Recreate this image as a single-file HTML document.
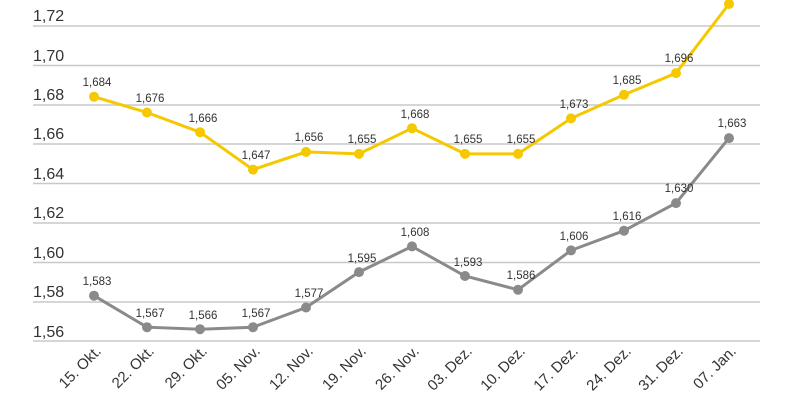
<!DOCTYPE html>
<html><head><meta charset="utf-8"><style>body{margin:0;background:#fff}svg{display:block}</style></head><body>
<svg width="800" height="400" xmlns="http://www.w3.org/2000/svg" font-family="Liberation Sans, sans-serif">
<g stroke="#c8c8c8" stroke-width="1.5">
<line x1="33" x2="760" y1="26" y2="26"/><line x1="33" x2="760" y1="65.5" y2="65.5"/><line x1="33" x2="760" y1="105" y2="105"/><line x1="33" x2="760" y1="144" y2="144"/><line x1="33" x2="760" y1="183.5" y2="183.5"/><line x1="33" x2="760" y1="223" y2="223"/><line x1="33" x2="760" y1="262.5" y2="262.5"/><line x1="33" x2="760" y1="302" y2="302"/><line x1="33" x2="760" y1="341" y2="341"/>
</g>
<g font-size="16" fill="#333">
<text x="33" y="21">1,72</text><text x="33" y="61">1,70</text><text x="33" y="100">1,68</text><text x="33" y="139">1,66</text><text x="33" y="179">1,64</text><text x="33" y="218">1,62</text><text x="33" y="258">1,60</text><text x="33" y="297">1,58</text><text x="33" y="337">1,56</text>
</g>
<polyline fill="none" stroke="#f5c800" stroke-width="3" points="94,96.7 147,112.5 200,132.2 253,169.6 306,151.9 359,153.9 412,128.2 465,153.9 518,153.9 571,118.4 624,94.8 676,73.1 729,4"/>
<polyline fill="none" stroke="#8a8a8a" stroke-width="3" points="94,295.7 147,327.2 200,329.2 253,327.2 306,307.5 359,272.1 412,246.4 465,276 518,289.8 571,250.4 624,230.7 676,203.1 729,138.1"/>
<g fill="#f5c800">
<circle cx="94" cy="96.7" r="5"/><circle cx="147" cy="112.5" r="5"/><circle cx="200" cy="132.2" r="5"/><circle cx="253" cy="169.6" r="5"/><circle cx="306" cy="151.9" r="5"/><circle cx="359" cy="153.9" r="5"/><circle cx="412" cy="128.2" r="5"/><circle cx="465" cy="153.9" r="5"/><circle cx="518" cy="153.9" r="5"/><circle cx="571" cy="118.4" r="5"/><circle cx="624" cy="94.8" r="5"/><circle cx="676" cy="73.1" r="5"/><circle cx="729" cy="4" r="5"/>
</g>
<g fill="#8a8a8a">
<circle cx="94" cy="295.7" r="5"/><circle cx="147" cy="327.2" r="5"/><circle cx="200" cy="329.2" r="5"/><circle cx="253" cy="327.2" r="5"/><circle cx="306" cy="307.5" r="5"/><circle cx="359" cy="272.1" r="5"/><circle cx="412" cy="246.4" r="5"/><circle cx="465" cy="276" r="5"/><circle cx="518" cy="289.8" r="5"/><circle cx="571" cy="250.4" r="5"/><circle cx="624" cy="230.7" r="5"/><circle cx="676" cy="203.1" r="5"/><circle cx="729" cy="138.1" r="5"/>
</g>
<g font-size="11.5" fill="#333" text-anchor="middle">
<text x="97" y="86">1,684</text><text x="150" y="102">1,676</text><text x="203" y="122">1,666</text><text x="256" y="159">1,647</text><text x="309" y="141">1,656</text><text x="362" y="143">1,655</text><text x="415" y="118">1,668</text><text x="468" y="143">1,655</text><text x="521" y="143">1,655</text><text x="574" y="108">1,673</text><text x="627" y="84">1,685</text><text x="679" y="62">1,696</text>
<text x="97" y="285">1,583</text><text x="150" y="317">1,567</text><text x="203" y="319">1,566</text><text x="256" y="317">1,567</text><text x="309" y="297">1,577</text><text x="362" y="262">1,595</text><text x="415" y="236">1,608</text><text x="468" y="266">1,593</text><text x="521" y="279">1,586</text><text x="574" y="240">1,606</text><text x="627" y="220">1,616</text><text x="679" y="192">1,630</text><text x="732" y="127">1,663</text>
</g>
<g font-size="15" fill="#333" text-anchor="end">
<text transform="translate(102,352) rotate(-45)">15. Okt.</text>
<text transform="translate(155,352) rotate(-45)">22. Okt.</text>
<text transform="translate(208,352) rotate(-45)">29. Okt.</text>
<text transform="translate(261,352) rotate(-45)">05. Nov.</text>
<text transform="translate(314,352) rotate(-45)">12. Nov.</text>
<text transform="translate(367,352) rotate(-45)">19. Nov.</text>
<text transform="translate(420,352) rotate(-45)">26. Nov.</text>
<text transform="translate(473,352) rotate(-45)">03. Dez.</text>
<text transform="translate(526,352) rotate(-45)">10. Dez.</text>
<text transform="translate(579,352) rotate(-45)">17. Dez.</text>
<text transform="translate(632,352) rotate(-45)">24. Dez.</text>
<text transform="translate(684,352) rotate(-45)">31. Dez.</text>
<text transform="translate(737,352) rotate(-45)">07. Jan.</text>
</g>
</svg>
</body></html>
